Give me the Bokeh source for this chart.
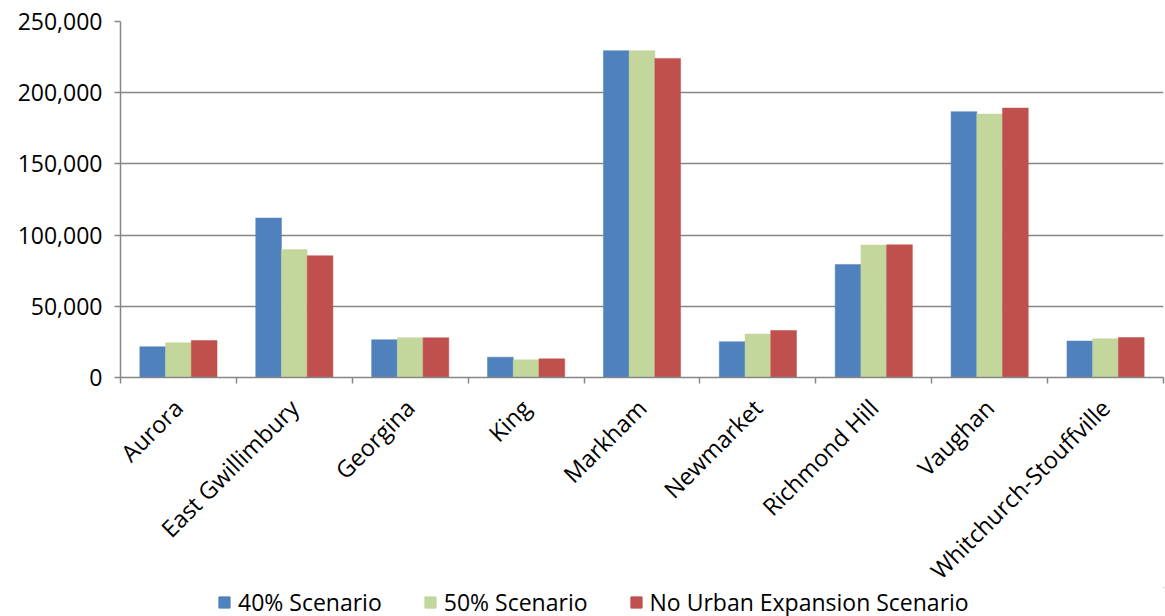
import numpy as np
from bokeh.plotting import figure
from bokeh.layouts import column
from bokeh.models import FixedTicker, Legend, LegendItem, NumeralTickFormatter, Range1d
from bokeh.embed import file_html
from bokeh.resources import INLINE

categories = ["Aurora", "East Gwillimbury", "Georgina", "King", "Markham",
              "Newmarket", "Richmond Hill", "Vaughan", "Whitchurch-Stouffville"]
s40 = [21600, 112000, 26500, 14300, 229500, 25100, 79400, 186700, 25600]
s50 = [24400, 89800, 27900, 12400, 229500, 30500, 93000, 185000, 27200]
s_no = [26000, 85500, 27900, 13100, 224100, 33000, 93200, 189200, 28100]
series_names = ["40% Scenario", "50% Scenario", "No Urban Expansion Scenario"]
colors = ["#4F81BD", "#C3D69B", "#C0504D"]
y_ticks = [0, 50000, 100000, 150000, 200000, 250000]

FONT = "Open Sans"
GRID = "#868686"

p = figure(frame_width=1043, frame_height=356, output_backend="svg", toolbar_location=None,
           x_range=Range1d(0, len(categories)), y_range=Range1d(0, 250000),
           min_border_left=120, min_border_right=2, min_border_top=21,
           min_border_bottom=0)
p.outline_line_color = None
p.background_fill_color = "white"
p.border_fill_color = "white"

centers = np.arange(len(categories)) + 0.5
bw = 0.222
series = [s40, s50, s_no]
for i, (vals, c) in enumerate(zip(series, colors)):
    p.vbar(x=centers + (i - 1) * bw, top=vals, width=bw, bottom=0,
           fill_color=c, line_color=c, line_width=0.5)

# x axis
xa = p.xaxis[0]
xa.ticker = FixedTicker(ticks=list(centers), minor_ticks=list(range(len(categories) + 1)))
xa.major_label_overrides = {float(c): n for c, n in zip(centers, categories)}
xa.major_tick_out = 0
xa.major_tick_in = 0
xa.minor_tick_out = 6
xa.minor_tick_in = 0
xa.minor_tick_line_color = GRID
xa.minor_tick_line_width = 1.5
xa.axis_line_color = GRID
xa.axis_line_width = 1.5
xa.major_label_orientation = np.pi / 4
xa.major_label_text_font = FONT
xa.major_label_text_font_size = "23.5px"
xa.major_label_text_color = "black"
xa.major_label_standoff = 20

# y axis
ya = p.yaxis[0]
ya.ticker = FixedTicker(ticks=y_ticks, minor_ticks=[])
ya.formatter = NumeralTickFormatter(format="0,0")
ya.major_tick_out = 6
ya.major_tick_in = 0
ya.major_tick_line_color = GRID
ya.major_tick_line_width = 1.5
ya.axis_line_color = GRID
ya.axis_line_width = 1.5
ya.major_label_text_font = FONT
ya.major_label_text_font_size = "23px"
ya.major_label_text_color = "black"
ya.major_label_standoff = 12

p.xgrid.grid_line_color = None
p.ygrid.ticker = FixedTicker(ticks=y_ticks)
p.ygrid.grid_line_color = GRID
p.ygrid.grid_line_width = 1.5

# legend strip
p2 = figure(width=1165, height=30, output_backend="svg", toolbar_location=None,
            x_range=Range1d(0, 1), y_range=Range1d(0, 1),
            x_axis_location=None, y_axis_location=None,
            min_border=0, margin=(-13, 0, 0, 0))
p2.outline_line_color = None
p2.grid.visible = False
leg_renderers = [p2.vbar(x=[5], top=[5], bottom=[4], width=0.1, fill_color=c, line_color=c)
                 for c in colors]
legend = Legend(items=[LegendItem(label=n, renderers=[r]) for n, r in zip(series_names, leg_renderers)],
                orientation="horizontal", location="left",
                glyph_width=14, glyph_height=14, label_standoff=7, spacing=41,
                label_text_font=FONT, label_text_font_size="23px",
                label_text_color="black", label_height=20,
                border_line_color=None, background_fill_alpha=0,
                padding=0, margin=97)
p2.add_layout(legend, "center")

layout = column(p, p2, spacing=0)
open("out.html", "w").write(file_html(layout, INLINE))
